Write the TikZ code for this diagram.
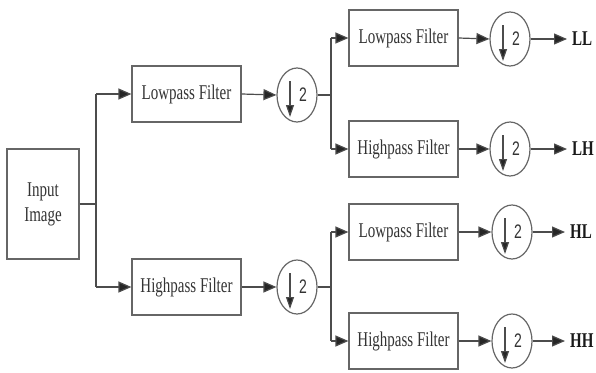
\documentclass[tikz,border=0pt]{standalone}
\usepackage{fontspec}
\setmainfont{Liberation Serif}
\newfontfamily\arialfont{Liberation Sans}
\usetikzlibrary{shapes.geometric,arrows.meta,calc}
\newcommand\vsc[1]{\scalebox{1}[1.4]{#1}}
\tikzset{
  line/.style={draw=black!70, line width=1.2pt},
  arr/.style={line, -{Triangle[length=13pt,width=11pt,fill=black!85]}},
  filt/.style={draw=black!60, line width=1.2pt, minimum width=109pt, minimum height=56pt, inner sep=0pt,
     text=black!80, font=\fontsize{15}{18}\selectfont},
  inbox/.style={draw=black!60, line width=1.2pt, minimum width=72pt, minimum height=110pt, inner sep=0pt,
     text=black!80, align=center, font=\fontsize{15}{25}\selectfont},
  down/.style={ellipse, draw=black!60, line width=1.2pt, minimum width=40pt, minimum height=54pt, inner sep=0pt},
  two/.style={inner sep=0pt, text=black!80, font=\arialfont\fontsize{14}{14}\selectfont},
  outlbl/.style={inner sep=0pt, anchor=west, text=black!90, font=\bfseries\fontsize{15}{15}\selectfont},
}
\begin{document}
\begin{tikzpicture}[x=1pt,y=-1pt]
\useasboundingbox (0,0) rectangle (596,372);
% nodes
\node[inbox] (inp) at (43,204) {\vsc{Input}\\\vsc{Image}};
\coordinate (s1) at (96,204);
\coordinate (s1t) at (96,94);
\coordinate (s1b) at (96,287);
\node[filt] (lp1) at (186.5,94) {\vsc{Lowpass Filter}};
\node[filt] (hp1) at (186.5,287) {\vsc{Highpass Filter}};
\node[down] (d1) at (297,95) {};
\node[down] (d2) at (297,287) {};
\coordinate (s2) at (331,95);
\coordinate (s2t) at (331,38);
\coordinate (s2b) at (331,149);
\coordinate (s3) at (331,287);
\coordinate (s3t) at (331,232);
\coordinate (s3b) at (331,341);
\node[filt] (lp2) at (403.5,38) {\vsc{Lowpass Filter}};
\node[filt] (hp2) at (403.5,149) {\vsc{Highpass Filter}};
\node[filt] (lp3) at (403.5,232) {\vsc{Lowpass Filter}};
\node[filt] (hp3) at (403.5,341) {\vsc{Highpass Filter}};
\node[down] (d3) at (510,39) {};
\node[down] (d4) at (510,149) {};
\node[down] (d5) at (512,232) {};
\node[down] (d6) at (512,341) {};
\node[outlbl] (oLL) at (572,39) {\vsc{LL}};
\node[outlbl] (oLH) at (572,149) {\vsc{LH}};
\node[outlbl] (oHL) at (570,232) {\vsc{HL}};
\node[outlbl] (oHH) at (570,341) {\vsc{HH}};
% downsampler contents
\foreach \d in {d1,d2,d3,d4,d5,d6}{
  \draw[line, -{Triangle[length=12pt,width=8pt,fill=black!85]}] ($(\d)+(-7,-14)$) -- ($(\d)+(-7,22)$);
  \node[two] (\d two) at ($(\d)+(6,0)$) {\vsc{2}};
}
% connectors stage 1
\draw[line] (inp.east) -- (s1);
\draw[line] (s1t) -- (s1b);
\draw[arr] (s1t) -- (lp1.west);
\draw[arr] (s1b) -- (hp1.west);
\draw[arr] (lp1.east) -- (d1.west);
\draw[arr] (hp1.east) -- (d2.west);
% stage 2
\draw[line] (d1.east) -- (s2);
\draw[line] (s2t) -- (s2b);
\draw[arr] (s2t) -- (lp2.west);
\draw[arr] (s2b) -- (hp2.west);
\draw[line] (d2.east) -- (s3);
\draw[line] (s3t) -- (s3b);
\draw[arr] (s3t) -- (lp3.west);
\draw[arr] (s3b) -- (hp3.west);
\draw[arr] (lp2.east) -- (d3.west);
\draw[arr] (hp2.east) -- (d4.west);
\draw[arr] (lp3.east) -- (d5.west);
\draw[arr] (hp3.east) -- (d6.west);
% outputs
\draw[arr] (d3.east) -- ($(oLL.west)+(-5,0)$);
\draw[arr] (d4.east) -- ($(oLH.west)+(-5,0)$);
\draw[arr] (d5.east) -- ($(oHL.west)+(-5,0)$);
\draw[arr] (d6.east) -- ($(oHH.west)+(-5,0)$);
\end{tikzpicture}
\end{document}
